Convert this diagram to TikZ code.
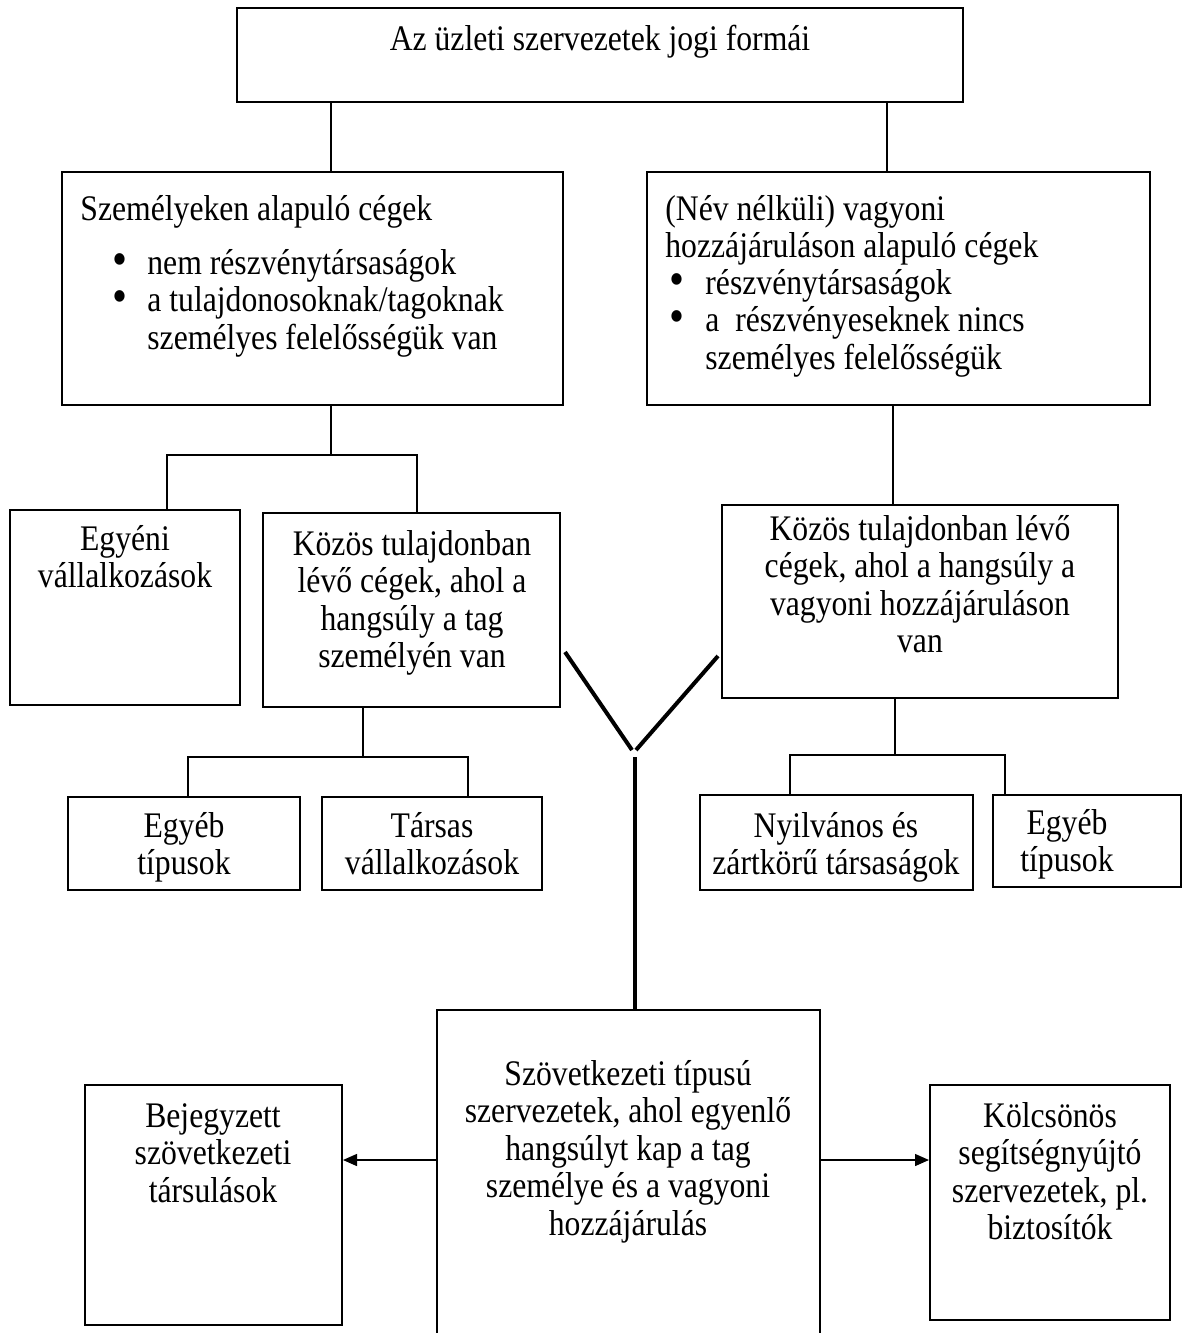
\documentclass[tikz,border=0pt]{standalone}
\usepackage{fontspec}
\setmainfont{Liberation Serif}[FakeStretch=0.88]
\usetikzlibrary{arrows.meta, fit}
\tikzset{>={Triangle[length=7pt,width=6pt]}}
\tikzset{box/.style={draw, line width=1pt, inner sep=0pt},
	txt/.style={inner sep=0pt, align=center, anchor=north},
	ltxt/.style={inner sep=0pt, align=left, anchor=north west},
	conn/.style={line width=0.7pt},
	ylin/.style={line width=2pt}}
\newcommand{\fl}{\rule{0pt}{15pt}}
\newcommand{\bul}{\smash{\raisebox{-0.5pt}{\scalebox{1.35}{\textbullet}}}}

\begin{document}
\begin{tikzpicture}[x=0.5pt, y=-0.5pt, font=\fontsize{18}{18.75}\selectfont]
	\useasboundingbox (0,0) rectangle (1183,1333);
	% boxes
	\node[box, fit={(237,8) (963,102)}] (forma) {};
	\node[box, fit={(62,172) (563,405)}] (szem) {};
	\node[box, fit={(647,172) (1150,405)}] (vagy) {};
	\node[box, fit={(10,510) (240,705)}] (egyeni) {};
	\node[box, fit={(263,513) (560,707)}] (kozos1) {};
	\node[box, fit={(722,505) (1118,698)}] (kozos2) {};
	\node[box, fit={(68,797) (300,890)}] (egyeb1) {};
	\node[box, fit={(322,797) (542,890)}] (tarsas) {};
	\node[box, fit={(700,795) (973,890)}] (nyilv) {};
	\node[box, fit={(993,795) (1181,887)}] (egyeb2) {};
	\node[box, fit={(437,1010) (820,1350)}] (szov) {};
	\node[box, fit={(85,1085) (342,1325)}] (bejegy) {};
	\node[box, fit={(930,1085) (1170,1320)}] (kolcs) {};
	% texts
	\node[txt] (format) at (600,20) {\fl Az üzleti szervezetek jogi formái};
	\node[ltxt] (szemt) at (80,190) {\fl Személyeken alapuló cégek};
	\node[ltxt] (szeml) at (147,244) {\fl nem részvénytársaságok\\a tulajdonosoknak/tagoknak\\személyes felelősségük van};
	\node[ltxt] (szemb1) at (112,244) {\fl\bul};
	\node[ltxt] (szemb2) at (112,281.5) {\fl\bul};
	\node[ltxt] (vagyt) at (665,190) {\fl (Név nélküli) vagyoni\\hozzájáruláson alapuló cégek};
	\node[ltxt] (vagyl) at (705,264) {\fl részvénytársaságok\\a~ részvényeseknek nincs\\személyes felelősségük};
	\node[ltxt] (vagyb1) at (669,264) {\fl\bul};
	\node[ltxt] (vagyb2) at (669,301.5) {\fl\bul};
	\node[txt] (egyenit) at (125,520) {\fl Egyéni\\vállalkozások};
	\node[txt] (kozos1t) at (412,525) {\fl Közös tulajdonban\\lévő cégek, ahol a\\hangsúly a tag\\személyén van};
	\node[txt] (kozos2t) at (920,510) {\fl Közös tulajdonban lévő\\cégek, ahol a hangsúly a\\vagyoni hozzájáruláson\\van};
	\node[txt] (egyeb1t) at (184,807) {\fl Egyéb\\típusok};
	\node[txt] (tarsast) at (432,807) {\fl Társas\\vállalkozások};
	\node[txt] (nyilvt) at (836,807) {\fl Nyilvános és\\zártkörű társaságok};
	\node[txt] (egyeb2t) at (1067,804) {\fl Egyéb\\típusok};
	\node[txt] (szovt) at (628,1055) {\fl Szövetkezeti típusú\\szervezetek, ahol egyenlő\\hangsúlyt kap a tag\\személye és a vagyoni\\hozzájárulás};
	\node[txt] (bejegyt) at (213,1097) {\fl Bejegyzett\\szövetkezeti\\társulások};
	\node[txt] (kolcst) at (1050,1097) {\fl Kölcsönös\\segítségnyújtó\\szervezetek, pl.\\biztosítók};
	% connectors
	\draw[conn] (forma.south -| 331,0) -- (szem.north -| 331,0);
	\draw[conn] (forma.south -| 887,0) -- (vagy.north -| 887,0);
	\draw[conn] (szem.south -| 331,0) -- (331,455);
	\draw[conn] (egyeni.north -| 167,0) -- (167,455) -- (417,455) -- (kozos1.north -| 417,0);
	\draw[conn] (vagy.south -| 893,0) -- (kozos2.north -| 893,0);
	\draw[conn] (kozos1.south -| 363,0) -- (363,757);
	\draw[conn] (egyeb1.north -| 188,0) -- (188,757) -- (468,757) -- (tarsas.north -| 468,0);
	\draw[conn] (kozos2.south -| 895,0) -- (895,755);
	\draw[conn] (nyilv.north -| 790,0) -- (790,755) -- (1005,755) -- (egyeb2.north -| 1005,0);
	\draw[ylin] (565,652) -- (632,750);
	\draw[ylin] (718,656) -- (636,750);
	\draw[ylin] (szov.north -| 635,0) -- (635,757);
	\draw[conn, ->] (szov.west |- 0,1160) -- (bejegy.east |- 0,1160);
	\draw[conn, ->] (szov.east |- 0,1160) -- (kolcs.west |- 0,1160);
\end{tikzpicture}
\end{document}
